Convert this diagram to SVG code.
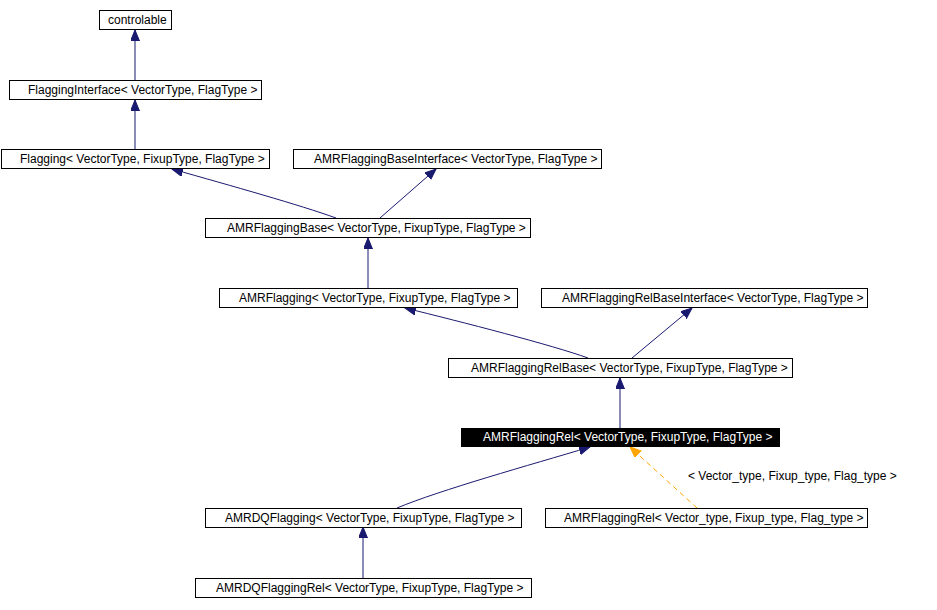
<svg xmlns="http://www.w3.org/2000/svg" width="937" height="610" viewBox="0 0 937 610">
<defs>
<style>
.box{fill:#fff;stroke:#000;stroke-width:1}
.sel{fill:#000;stroke:#000;stroke-width:1}
text{font-family:"Liberation Sans",Arial,sans-serif;font-size:12px;fill:#000}
.w{fill:#fff}
.e{fill:none;stroke:#191970;stroke-width:1}
.d{fill:none;stroke:#ffa500;stroke-width:1;stroke-dasharray:5,4}
</style>
<marker id="ah" markerUnits="userSpaceOnUse" markerWidth="12" markerHeight="10" refX="11" refY="4.5" orient="auto">
<path d="M0,0 L11,4.5 L0,9 z" fill="#191970" stroke="#191970"/>
</marker>
<marker id="ao" markerUnits="userSpaceOnUse" markerWidth="12" markerHeight="10" refX="11" refY="4.5" orient="auto">
<path d="M0,0 L11,4.5 L0,9 z" fill="#ffa500" stroke="#ffa500"/>
</marker>
</defs>
<rect width="937" height="610" fill="#fff"/>
<g id="connectors">
<path class="e" d="M135,80 L135,30" marker-end="url(#ah)"/>
<path class="e" d="M135,149 L135,100" marker-end="url(#ah)"/>
<path class="e" d="M336,218 C300,205 232,186 172,169" marker-end="url(#ah)"/>
<path class="e" d="M380,218 L436,169" marker-end="url(#ah)"/>
<path class="e" d="M368,288 L368,238" marker-end="url(#ah)"/>
<path class="e" d="M588,358 C552,345 462,322 405,308" marker-end="url(#ah)"/>
<path class="e" d="M632,358 L692,308" marker-end="url(#ah)"/>
<path class="e" d="M620,428 L620,378" marker-end="url(#ah)"/>
<path class="e" d="M397,508 C440,490 530,465 590,447" marker-end="url(#ah)"/>
<path class="d" d="M697,508 L630,447" marker-end="url(#ao)"/>
<path class="e" d="M363,578 L363,527" marker-end="url(#ah)"/>
<text x="688" y="480">&lt; Vector_type, Fixup_type, Flag_type &gt;</text>
</g>
<g id="n_controlable"><rect class="box" x="99.5" y="10.5" width="72" height="19"/><text x="108" y="24">controlable</text></g>
<g id="n_FlaggingInterface"><rect class="box" x="9.5" y="80.5" width="252" height="19"/><text x="28" y="94">FlaggingInterface&lt; VectorType, FlagType &gt;</text></g>
<g id="n_Flagging"><rect class="box" x="1.5" y="149.5" width="268" height="19"/><text x="20" y="163">Flagging&lt; VectorType, FixupType, FlagType &gt;</text></g>
<g id="n_AMRFlaggingBaseInterface"><rect class="box" x="293.5" y="149.5" width="308" height="19"/><text x="314" y="163">AMRFlaggingBaseInterface&lt; VectorType, FlagType &gt;</text></g>
<g id="n_AMRFlaggingBase"><rect class="box" x="205.5" y="218.5" width="325" height="19"/><text x="227" y="232">AMRFlaggingBase&lt; VectorType, FixupType, FlagType &gt;</text></g>
<g id="n_AMRFlagging"><rect class="box" x="219.5" y="288.5" width="298" height="19"/><text x="239" y="302">AMRFlagging&lt; VectorType, FixupType, FlagType &gt;</text></g>
<g id="n_AMRFlaggingRelBaseInterface"><rect class="box" x="541.5" y="288.5" width="326" height="19"/><text x="562" y="302">AMRFlaggingRelBaseInterface&lt; VectorType, FlagType &gt;</text></g>
<g id="n_AMRFlaggingRelBase"><rect class="box" x="448.5" y="358.5" width="344" height="19"/><text x="471" y="372">AMRFlaggingRelBase&lt; VectorType, FixupType, FlagType &gt;</text></g>
<g id="n_AMRFlaggingRel"><rect class="sel" x="461.5" y="428.5" width="318" height="18"/><text class="w" x="483" y="441">AMRFlaggingRel&lt; VectorType, FixupType, FlagType &gt;</text></g>
<g id="n_AMRDQFlagging"><rect class="box" x="205.5" y="508.5" width="316" height="19"/><text x="225" y="522">AMRDQFlagging&lt; VectorType, FixupType, FlagType &gt;</text></g>
<g id="n_AMRFlaggingRel_inst"><rect class="box" x="545.5" y="508.5" width="322" height="19"/><text x="564" y="522">AMRFlaggingRel&lt; Vector_type, Fixup_type, Flag_type &gt;</text></g>
<g id="n_AMRDQFlaggingRel"><rect class="box" x="195.5" y="578.5" width="336" height="19"/><text x="216" y="592">AMRDQFlaggingRel&lt; VectorType, FixupType, FlagType &gt;</text></g>
</svg>
